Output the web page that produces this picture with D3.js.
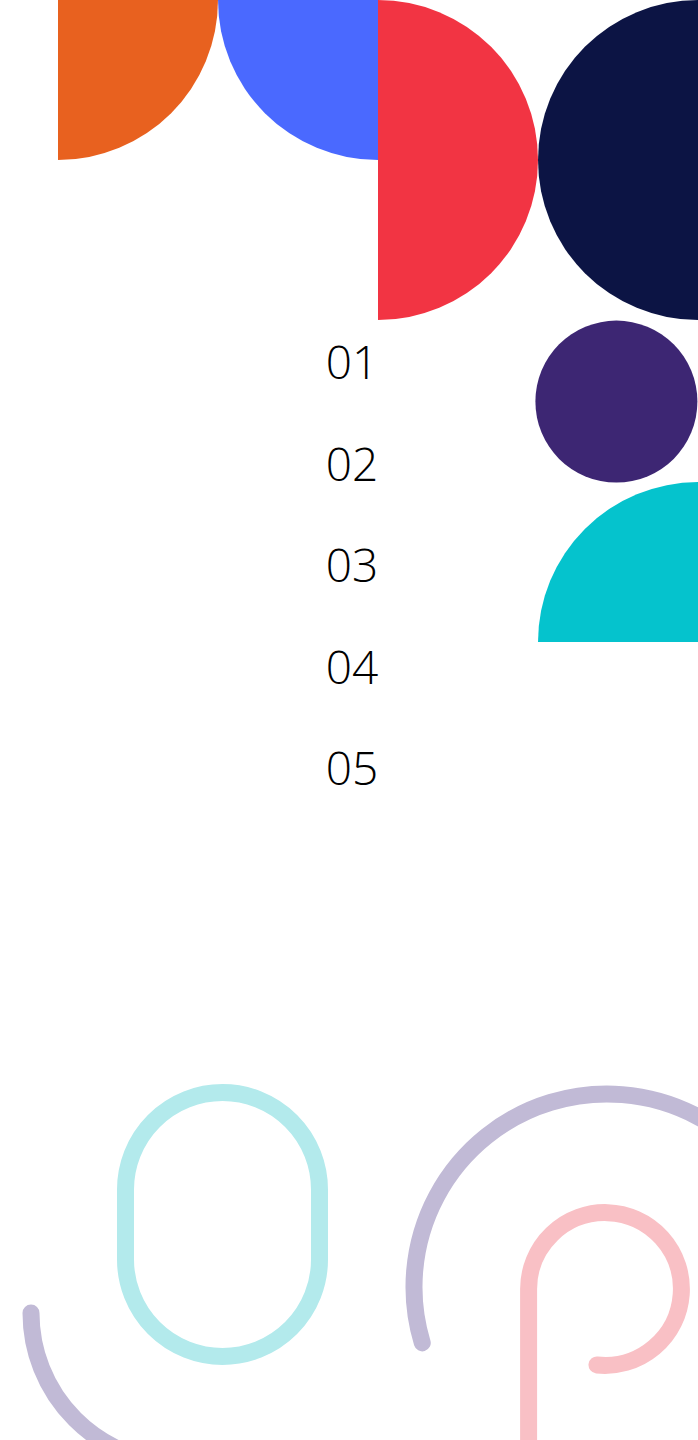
<!DOCTYPE html>
<html>
<head>
<meta charset="utf-8">
<script src="https://cdn.jsdelivr.net/npm/d3@7"></script>
<style>
  html, body { margin: 0; padding: 0; background: #fff; }
  svg { display: block; }
</style>
</head>
<body>
<div id="chart"></div>
<script>
const width = 698;
const height = 1440;

// list labels
const labels = ['01', '02', '03', '04', '05'];

// solid block colours, top to bottom
const blockColors = ['#E8611F', '#4A69FF', '#F23443', '#0C1444', '#3D2673', '#05C3CD'];

// faint line colours
const lineColors = ['#B3EAEC', '#C1BAD6', '#F9C0C5'];

const cell = 160;
const col = d3.scaleLinear().domain([0, 4]).range([58, 58 + 4 * cell]);
const row = d3.scaleLinear().domain([0, 4]).range([0, 4 * cell]);
const labelY = d3.scalePoint().domain(labels).range([379, 785]);

const svg = d3.select('#chart').append('svg')
    .attr('width', width)
    .attr('height', height);

const arc = d3.arc().innerRadius(0);

// blocks: [col, row, radius, startAngle, endAngle]
const blocks = [
    [0, 0, cell, Math.PI / 2, Math.PI],
    [2, 0, cell, Math.PI, Math.PI * 1.5],
    [2, 1, cell, 0, Math.PI],
    [4, 1, cell, Math.PI, Math.PI * 2],
    [3.49, 2.51, cell / 2 + 1, 0, Math.PI * 2],
    [4, 4.013, cell, Math.PI * 1.5, Math.PI * 2]
];

svg.append('g').selectAll('path').data(blocks)
    .join('path')
    .attr('transform', d => "translate(" + col(d[0]) + "," + row(d[1]) + ")")
    .attr('d', d => arc({outerRadius: d[2], startAngle: d[3], endAngle: d[4]}))
    .attr('fill', (d, i) => blockColors[i]);

// numbers
svg.append('g').selectAll('text').data(labels)
    .join('text')
    .attr('x', 352)
    .attr('y', d => labelY(d))
    .attr('text-anchor', 'middle')
    .attr('font-family', "'Open Sans', sans-serif")
    .attr('font-weight', 300)
    .attr('font-size', 46)
    .attr('fill', '#000')
    .text(d => d);

// faint outlines at the bottom
const lines = svg.append('g')
    .attr('fill', 'none')
    .attr('stroke-width', 17)
    .attr('stroke-linecap', 'round');

// stadium
lines.append('rect')
    .attr('x', 125.5).attr('y', 1092.5)
    .attr('width', 194).attr('height', 264)
    .attr('rx', 97).attr('ry', 97)
    .attr('stroke', lineColors[0]);

// big lavender arc
let p = d3.path();
p.arc(607, 1287, 193, 2.848, Math.PI * 2 - 0.3, false);
lines.append('path').attr('d', p.toString()).attr('stroke', lineColors[1]);

// small lavender arc bottom left
p = d3.path();
p.arc(181, 1313, 150, Math.PI, Math.PI / 2, true);
lines.append('path').attr('d', p.toString()).attr('stroke', lineColors[1]);

// pink "p"
p = d3.path();
p.moveTo(528.6, 1470);
p.lineTo(528.6, 1289);
p.arc(605, 1289, 76.4, Math.PI, Math.PI * 2 + 1.676, false);
lines.append('path').attr('d', p.toString()).attr('stroke', lineColors[2]);
</script>
</body>
</html>
